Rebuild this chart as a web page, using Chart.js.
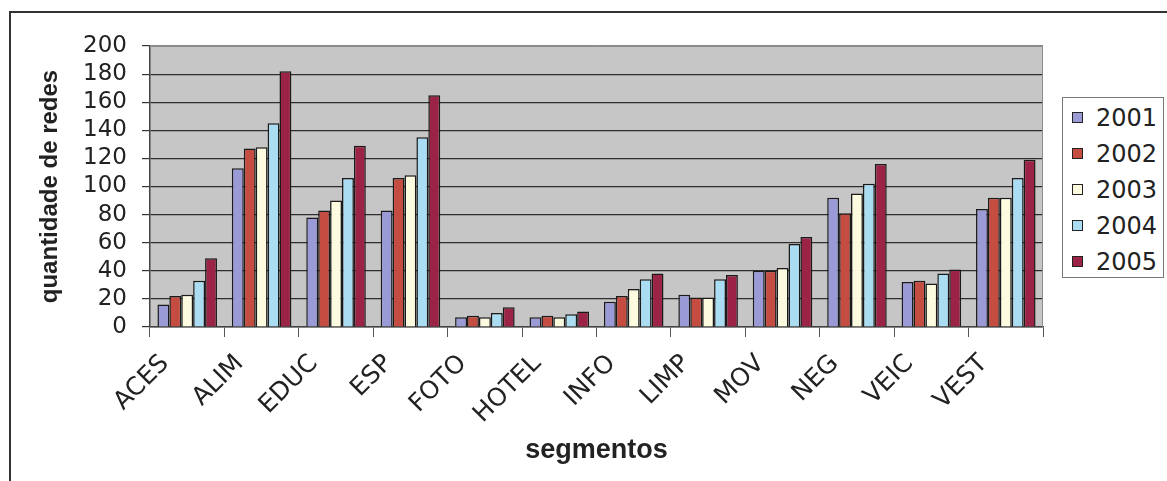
<!DOCTYPE html>
<html>
<head>
<meta charset="utf-8">
<script src="https://cdn.jsdelivr.net/npm/chart.js@4"></script>
<style>
  html, body { margin: 0; padding: 0; background: #fff; }
  #frame {
    position: absolute; left: 9px; top: 11px; width: 1170px; height: 480px;
    border-left: 2px solid #333; border-top: 2px solid #333;
  }
  #chart { position: absolute; left: 0; top: 0; }
  #legend {
    position: absolute; left: 1062px; top: 97px; width: 100px; height: 179px;
    border: 1px solid #777; background: #fff;
    font: 24px "DejaVu Sans", sans-serif; color: #222;
  }
  .item { position: absolute; left: 9px; height: 28px; line-height: 28px; white-space: nowrap; }
  .item span.box {
    display: inline-block; width: 9px; height: 9px; border: 1px solid #222;
    vertical-align: middle; margin-right: 13px; position: relative; top: -2px;
  }
</style>
</head>
<body>
<div id="frame"></div>
<canvas id="chart" width="1167" height="481"></canvas>
<div id="legend"></div>
<script>
const categories = ["ACES", "ALIM", "EDUC", "ESP", "FOTO", "HOTEL", "INFO", "LIMP", "MOV", "NEG", "VEIC", "VEST"];
const years = ["2001", "2002", "2003", "2004", "2005"];

const v2001 = [16, 113, 78, 83, 7, 7, 18, 23, 40, 92, 32, 84];
const v2002 = [22, 127, 83, 106, 8, 8, 22, 21, 40, 81, 33, 92];
const v2003 = [23, 128, 90, 108, 7, 7, 27, 21, 42, 95, 31, 92];
const v2004 = [33, 145, 106, 135, 10, 9, 34, 34, 59, 102, 38, 106];
const v2005 = [49, 182, 129, 165, 14, 11, 38, 37, 64, 116, 41, 119];

const seriesValues = [v2001, v2002, v2003, v2004, v2005];
const colors = ["#9a9ad6", "#c44c40", "#fcfadf", "#aadcf2", "#9b2446"];

const yTicks = [0, 20, 40, 60, 80, 100, 120, 140, 160, 180, 200];

const plotBg = {
  id: "plotBg",
  beforeDraw(chart) {
    const { ctx, chartArea: a } = chart;
    ctx.save();
    ctx.fillStyle = "#c6c6c6";
    ctx.fillRect(a.left, a.top, a.right - a.left, a.bottom - a.top);
    ctx.restore();
  },
  afterDatasetsDraw(chart) {
    const { ctx, chartArea: a } = chart;
    ctx.save();
    ctx.strokeStyle = "#8c8c8c";
    ctx.lineWidth = 1;
    ctx.beginPath();
    ctx.moveTo(a.left, a.top + 0.5);
    ctx.lineTo(a.right - 0.5, a.top + 0.5);
    ctx.lineTo(a.right - 0.5, a.bottom);
    ctx.stroke();
    ctx.restore();
  }
};

const chart = new Chart(document.getElementById("chart"), {
  type: "bar",
  data: {
    labels: categories,
    datasets: years.map((y, i) => ({
      label: y,
      data: seriesValues[i],
      backgroundColor: colors[i],
      borderColor: "#1a1a1a",
      borderWidth: 1.5,
      categoryPercentage: 0.8,
      barPercentage: 1.0
    }))
  },
  options: {
    responsive: false,
    animation: false,
    devicePixelRatio: 1,
    layout: { padding: { left: 0, top: 46, right: 124, bottom: 0 } },
    plugins: {
      legend: { display: false },
      tooltip: { enabled: false }
    },
    scales: {
      y: {
        min: 0,
        max: 200,
        afterFit(scale) { scale.width = 150; },
        afterBuildTicks(scale) { scale.ticks = yTicks.map(v => ({ value: v })); },
        ticks: {
          autoSkip: false,
          padding: 15,
          color: "#222",
          font: { family: "DejaVu Sans", size: 23 }
        },
        grid: {
          color: ctx => (ctx.tick && ctx.tick.value === 200 ? "#8c8c8c" : "#2e2e2e"),
          lineWidth: 1.2,
          tickLength: 8,
          tickColor: "#333"
        },
        border: { display: true, color: "#444", width: 1.5 },
        title: {
          display: true,
          text: "quantidade de redes",
          color: "#222",
          font: { family: "Liberation Sans", size: 24, weight: "bold" },
          padding: { top: 36, bottom: 0 }
        }
      },
      x: {
        afterFit(scale) { scale.height = 154; },
        ticks: {
          autoSkip: false,
          minRotation: 45,
          maxRotation: 45,
          padding: 12,
          labelOffset: -22,
          color: "#222",
          font: { family: "DejaVu Sans", size: 25 }
        },
        grid: {
          drawOnChartArea: false,
          offset: true,
          tickLength: 10,
          color: "#555"
        },
        border: { display: true, color: "#444", width: 1.5 },
        title: {
          display: true,
          text: "segmentos",
          color: "#222",
          font: { family: "Liberation Sans", size: 27, weight: "bold" },
          padding: { top: 4, bottom: 14 }
        }
      }
    }
  },
  plugins: [plotBg]
});

// legend built from the chart's own datasets
const legendEl = document.getElementById("legend");
chart.data.datasets.forEach((ds, i) => {
  const item = document.createElement("div");
  item.className = "item";
  item.style.top = (6 + i * 36) + "px";
  const box = document.createElement("span");
  box.className = "box";
  box.style.background = ds.backgroundColor;
  item.appendChild(box);
  item.appendChild(document.createTextNode(ds.label));
  legendEl.appendChild(item);
});
</script>
</body>
</html>
